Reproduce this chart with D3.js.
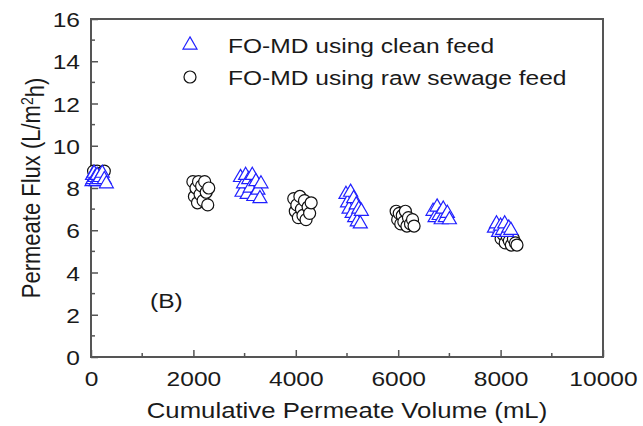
<!DOCTYPE html>
<html>
<head>
<meta charset="utf-8">
<script src="https://cdn.jsdelivr.net/npm/d3@7"></script>
<style>
  body { margin: 0; background: #fff; }
  svg { display: block; font-family: "Liberation Sans", Arial, sans-serif; }
</style>
</head>
<body>
<div id="chart"></div>
<script>
// series: [cumulative permeate volume (mL), flux (L/m2h)]
let cleanFeed = [
    [20, 8.3], [30, 8.6], [40, 8.4], [60, 8.7], [80, 8.5], [100, 8.3], [120, 8.6], [150, 8.4],
    [180, 8.5], [220, 8.7], [260, 8.4], [300, 8.2],
    [2920, 8.5], [2950, 7.8], [2980, 8.2], [3020, 8.6], [3050, 7.7], [3080, 8.4], [3110, 8.0],
    [3150, 8.6], [3180, 7.6], [3220, 8.3], [3260, 7.9], [3300, 7.5], [3320, 8.2],
    [4980, 7.7], [5010, 7.3], [5040, 7.0], [5070, 7.8], [5100, 6.8], [5130, 7.5], [5150, 6.6],
    [5180, 7.2], [5200, 6.4], [5230, 7.0], [5260, 6.3], [5280, 6.9],
    [6680, 6.9], [6720, 6.6], [6760, 7.1], [6800, 6.7], [6840, 6.5], [6880, 7.0], [6920, 6.6],
    [6960, 6.8], [7000, 6.5],
    [7880, 6.1], [7920, 6.3], [7960, 5.9], [8000, 6.2], [8040, 6.0], [8080, 6.3], [8120, 5.9],
    [8160, 6.1], [8200, 6.0]
];
let sewageFeed = [
    [50, 8.8], [120, 8.8], [200, 8.7], [260, 8.8],
    [1990, 8.3], [2020, 7.6], [2050, 8.0], [2080, 7.3], [2100, 8.3], [2130, 7.7], [2160, 8.1],
    [2190, 7.4], [2220, 8.3], [2250, 7.8], [2280, 7.2], [2300, 8.0],
    [3960, 7.5], [3990, 6.9], [4020, 7.2], [4050, 6.6], [4080, 7.6], [4110, 7.0], [4140, 6.7],
    [4170, 7.4], [4200, 6.5], [4240, 7.1], [4270, 6.8], [4300, 7.3],
    [5960, 6.9], [5990, 6.5], [6020, 6.8], [6050, 6.3], [6080, 6.7], [6110, 6.4], [6140, 6.9],
    [6170, 6.2], [6200, 6.6], [6240, 6.3], [6280, 6.5], [6310, 6.2],
    [7970, 5.9], [8010, 5.6], [8050, 5.8], [8090, 5.4], [8130, 5.7], [8170, 5.5], [8210, 5.3],
    [8250, 5.6], [8290, 5.4], [8320, 5.3]
];
let seriesNames = ['FO-MD using clean feed', 'FO-MD using raw sewage feed'];
let xTicks = [0, 2000, 4000, 6000, 8000, 10000];
let yTicks = [0, 2, 4, 6, 8, 10, 12, 14, 16];

const width = 643, height = 426;
const margin = { top: 19, right: 40, bottom: 69, left: 91 };
const axisColor = '#555';
const blue = '#2020ff';
const textColor = '#1a1a1a';
// the source figure is stretched sideways, so horizontal text is widened a bit
const stretch = 1.17;

let svg = d3.select('#chart').append('svg')
    .attr('width', width)
    .attr('height', height);

let x = d3.scaleLinear().domain([0, 10000]).range([margin.left, width - margin.right]);
let y = d3.scaleLinear().domain([0, 16]).range([height - margin.bottom, margin.top]);

// axes, ticks pointing inward
let xAxis = d3.axisBottom(x).tickValues(xTicks).tickFormat(d3.format('d')).tickSize(-7).tickPadding(14);
let yAxis = d3.axisLeft(y).tickValues(yTicks).tickFormat(d3.format('d')).tickSize(-7).tickPadding(11);

let gx = svg.append('g')
    .attr('transform', `translate(0,${y(0)})`)
    .call(xAxis);
let gy = svg.append('g')
    .attr('transform', `translate(${x(0)},0)`)
    .call(yAxis);

[gx, gy].forEach(g => {
    g.select('.domain').remove();
    g.selectAll('.tick line').attr('stroke', axisColor).attr('stroke-width', 1.5);
    g.selectAll('.tick text')
        .attr('fill', textColor)
        .style('font-size', '21px')
        .style('font-family', '"Liberation Sans", Arial, sans-serif');
});
gx.selectAll('.tick text')
    .attr('transform', `scale(${stretch},1)`);
gy.selectAll('.tick text')
    .attr('dy', '0.36em')
    .attr('transform', `translate(-11,0) scale(${stretch},1)`)
    .attr('x', 0);

// minor ticks
svg.append('g').selectAll('line')
    .data(d3.range(1000, 10000, 2000))
    .join('line')
    .attr('x1', d => x(d)).attr('x2', d => x(d))
    .attr('y1', y(0)).attr('y2', y(0) - 4)
    .attr('stroke', axisColor).attr('stroke-width', 1.5);
svg.append('g').selectAll('line')
    .data(d3.range(1, 16, 2))
    .join('line')
    .attr('y1', d => y(d)).attr('y2', d => y(d))
    .attr('x1', x(0)).attr('x2', x(0) + 4)
    .attr('stroke', axisColor).attr('stroke-width', 1.5);

// frame (no ticks on top/right)
svg.append('rect')
    .attr('x', x(0)).attr('y', y(16))
    .attr('width', x(10000) - x(0))
    .attr('height', y(0) - y(16))
    .attr('fill', 'none')
    .attr('stroke', axisColor)
    .attr('stroke-width', 2);

let triangle = d3.symbol().type(d3.symbolTriangle).size(85);

// raw sewage feed, open circles
svg.append('g').selectAll('circle')
    .data(sewageFeed)
    .join('circle')
    .attr('cx', d => x(d[0]))
    .attr('cy', d => y(d[1]))
    .attr('r', 6)
    .attr('fill', '#fff')
    .attr('stroke', '#111')
    .attr('stroke-width', 1.2);

// clean feed, open triangles
svg.append('g').selectAll('path')
    .data(cleanFeed)
    .join('path')
    .attr('d', triangle)
    .attr('transform', d => `translate(${x(d[0])},${y(d[1])})`)
    .attr('fill', '#fff')
    .attr('stroke', blue)
    .attr('stroke-width', 1.2);

// legend
let legend = svg.append('g');
legend.append('path')
    .attr('d', triangle)
    .attr('transform', 'translate(190,45)')
    .attr('fill', '#fff').attr('stroke', blue).attr('stroke-width', 1.2);
legend.append('circle')
    .attr('cx', 190).attr('cy', 77).attr('r', 6)
    .attr('fill', '#fff').attr('stroke', '#111').attr('stroke-width', 1.2);
legend.selectAll('text')
    .data(seriesNames)
    .join('text')
    .attr('transform', (d, i) => `translate(228,${45 + i * 32}) scale(${stretch},1)`)
    .attr('dy', '0.36em')
    .attr('fill', textColor)
    .style('font-size', '21px')
    .text(d => d);

// panel label
svg.append('text')
    .attr('transform', `translate(150,308) scale(${stretch},1)`)
    .attr('fill', textColor)
    .style('font-size', '21px')
    .text('(B)');

// axis titles
svg.append('text')
    .attr('transform', `translate(${(x(0) + x(10000)) / 2},418) scale(${stretch},1)`)
    .attr('text-anchor', 'middle')
    .attr('fill', textColor)
    .style('font-size', '22px')
    .text('Cumulative Permeate Volume (mL)');

let yTitle = svg.append('text')
    .attr('transform', `translate(40,${(y(0) + y(16)) / 2}) rotate(-90) scale(1,${stretch})`)
    .attr('text-anchor', 'middle')
    .attr('fill', textColor)
    .style('font-size', '22px');
yTitle.append('tspan').text('Permeate Flux (L/m');
yTitle.append('tspan').attr('dy', '-0.45em').style('font-size', '14px').text('2');
yTitle.append('tspan').attr('dy', '0.45em').text('h)');
</script>
</body>
</html>
